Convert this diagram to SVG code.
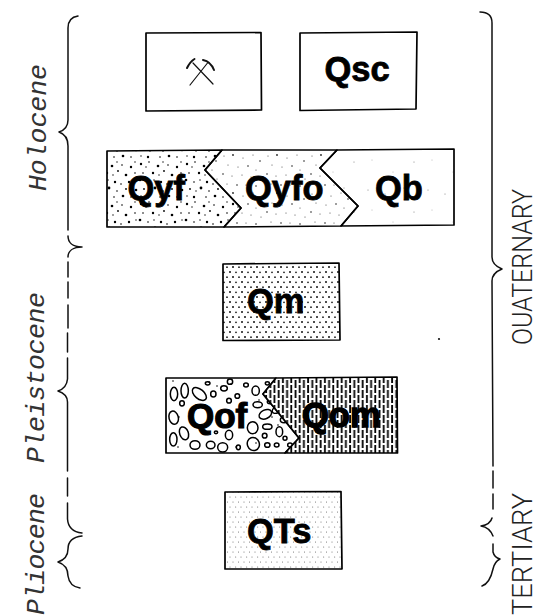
<svg xmlns="http://www.w3.org/2000/svg" width="533" height="616" viewBox="0 0 533 616">
<style>
.bx{fill:#fff;stroke:#000;stroke-width:1.7;stroke-linejoin:round}
.ln{fill:none;stroke:#111;stroke-width:1.5;stroke-linecap:round;stroke-linejoin:round}
.br{fill:none;stroke:#111;stroke-width:1.5;stroke-linecap:round;stroke-linejoin:round}
.lb{font-family:"Liberation Sans",Arial,sans-serif;font-weight:700;font-size:34.500px;fill:#000;stroke:#000;stroke-width:.8}
.ep{font-family:"Liberation Mono","Courier New",monospace;font-style:italic;font-size:26.500px;fill:#333}
.pd{font-family:"Roboto","Liberation Sans",sans-serif;font-weight:300;font-size:28px;fill:#222}
</style>
<defs>
<pattern id="pQyf" width="46" height="40" patternUnits="userSpaceOnUse" fill="#000">
<circle cx="3" cy="4" r="1.2"/><circle cx="8" cy="7" r=".7"/><circle cx="11" cy="2" r=".8"/><circle cx="20" cy="6" r="1.3"/><circle cx="25" cy="2" r=".7"/><circle cx="30" cy="5" r=".8"/><circle cx="39" cy="7" r="1.2"/><circle cx="43" cy="2" r=".7"/>
<circle cx="5" cy="13" r=".8"/><circle cx="15" cy="13" r="1.2"/><circle cx="21" cy="15" r=".7"/><circle cx="26" cy="11" r=".9"/><circle cx="34" cy="15" r="1.3"/><circle cx="43" cy="13" r=".8"/>
<circle cx="2" cy="20" r="1.3"/><circle cx="10" cy="22" r=".8"/><circle cx="16" cy="20" r=".7"/><circle cx="23" cy="22" r="1.2"/><circle cx="29" cy="24" r=".8"/><circle cx="37" cy="22" r="1.2"/><circle cx="44" cy="20" r=".7"/>
<circle cx="6" cy="29" r=".9"/><circle cx="12" cy="31" r=".7"/><circle cx="17" cy="28" r="1.4"/><circle cx="25" cy="31" r=".8"/><circle cx="34" cy="29" r=".9"/><circle cx="44" cy="30" r="1.3"/>
<circle cx="3" cy="36" r=".7"/><circle cx="10" cy="37" r="1.2"/><circle cx="22" cy="37" r=".8"/><circle cx="31" cy="36" r="1.3"/><circle cx="39" cy="37" r=".8"/>
</pattern>
<pattern id="pQyfo" width="44" height="38" patternUnits="userSpaceOnUse" fill="#222">
<circle cx="4" cy="4" r=".5"/><circle cx="13" cy="3" r=".9"/><circle cx="23" cy="6" r=".5"/><circle cx="33" cy="3" r=".5"/><circle cx="40" cy="9" r=".8"/>
<circle cx="8" cy="13" r=".5"/><circle cx="18" cy="15" r=".5"/><circle cx="28" cy="14" r=".8"/><circle cx="36" cy="18" r=".5"/>
<circle cx="3" cy="22" r=".8"/><circle cx="12" cy="24" r=".5"/><circle cx="22" cy="23" r=".5"/><circle cx="31" cy="25" r=".5"/><circle cx="41" cy="27" r=".5"/>
<circle cx="7" cy="32" r=".5"/><circle cx="17" cy="33" r=".8"/><circle cx="26" cy="33" r=".5"/><circle cx="36" cy="34" r=".8"/>
</pattern>
<pattern id="pQb" width="60" height="50" patternUnits="userSpaceOnUse" fill="#666">
<circle cx="8" cy="40" r=".5"/><circle cx="25" cy="44" r=".5"/><circle cx="44" cy="38" r=".5"/><circle cx="54" cy="12" r=".5"/><circle cx="33" cy="22" r=".4"/><circle cx="12" cy="10" r=".4"/>
</pattern>
<pattern id="pQm" width="12" height="10" patternUnits="userSpaceOnUse" fill="#111">
<circle cx="2" cy="2" r="1"/><circle cx="8" cy="2.300" r=".85"/><circle cx="5" cy="7" r="1"/><circle cx="11" cy="7.200" r=".85"/>
</pattern>
<pattern id="pQTs" width="11" height="10" patternUnits="userSpaceOnUse" fill="#555">
<circle cx="2" cy="2" r=".5"/><circle cx="7.500" cy="2" r=".5"/><circle cx="4.700" cy="7" r=".5"/><circle cx="10" cy="7" r=".5"/>
</pattern>
<pattern id="pQom" width="8.400" height="20" patternUnits="userSpaceOnUse">
<rect width="8.400" height="20" fill="#fff"/>
<g fill="#000"><rect x=".6" y="0" width="1.800" height="8"/><rect x=".6" y="10" width="1.800" height="8"/><rect x="4.800" y="5" width="1.800" height="8"/><rect x="4.800" y="15" width="1.800" height="5"/><rect x="4.800" y="0" width="1.800" height="3"/></g>
</pattern>
<clipPath id="cQof"><polygon points="166,378 276,378 263,394 299,438 285,453 166,453"/></clipPath>
</defs>
<rect width="533" height="616" fill="#fff"/>

<g id="connectors">
<path class="br" d="M78,16C71,17 68,21 68,28L68,120C68,126 65,130 59,132C65,134 68,138 68,146L68,230"/>
<path class="br" d="M68,236C68,242 72,247 82,247C73,247 68,251 68,257M68,262V277M68,282V298M68,305V328M67.500,333V352M67.500,358V379C67,385 64,389 58,391C64,393 67.500,396 67.500,402V471M67.500,478V496M67.500,503V519C68,526 72,532 82,533M82,536C73,537 68,541 68,549C68,556 64,560 58,562C64,564 68,568 68,576C69,583 73,587 80,588"/>
<path class="br" d="M480,12C488,12 492,16 492,23V257C492,263 497,267 502,269C497,271 492,275 492,281L493,466M493,471V488M493,494V509M492,518C491,522 487,525 481,526C487,527 491,531 493,536M493,544V552C494,556 496,558 500,559C496,561 494,564 493,569C491,578 488,584 482,586"/>
</g>

<g id="node-mine">
<polygon class="bx" points="146,33 261,32.500 261.500,110 146,111"/>
<path class="ln" style="stroke-width:1.2" d="M190,85L207.500,63M213,84L193,63"/>
<path class="ln" style="stroke-width:2" d="M187,68C189,64 191,61 194.500,59"/>
<path class="ln" style="stroke-width:2" d="M203,60C208,61 212,65 214,70"/>
</g>

<g id="node-Qsc">
<polygon class="bx" points="300,33 417,32 416,109 300,110.500"/>
<text class="lb" x="324.500" y="81">Qsc</text>
</g>

<g id="node-Qyf">
<polygon class="bx" style="fill:url(#pQyf)" points="107,151 222,150 205,170 241,208 224,227 107,227"/>
<text class="lb" x="127.500" y="200">Qyf</text>
</g>
<g id="node-Qyfo">
<polygon class="bx" style="fill:url(#pQyfo)" points="222,150 337,150 320,168 358,206 341,226 224,227 241,208 205,170"/>
<text class="lb" x="245" y="200">Qyfo</text>
</g>
<g id="node-Qb">
<polygon class="bx" style="fill:url(#pQb)" points="337,150 454,149 454,225 341,226 358,206 320,168"/>
<text class="lb" x="375" y="200">Qb</text>
</g>

<g id="node-Qm">
<polygon class="bx" style="fill:url(#pQm)" points="223,264 339,263 340,340 223,340.500"/>
<text class="lb" x="247" y="313">Qm</text>
</g>

<g id="node-Qof">
<polygon class="bx" points="166,378 276,378 263,394 299,438 285,453 166,453"/>
<g clip-path="url(#cQof)"><g transform="translate(160 370) scale(.33333)" fill="none" stroke="#000" stroke-width="4.500">
<ellipse cx="42" cy="72" rx="11" ry="20"/><ellipse cx="74" cy="62" rx="11" ry="22"/><ellipse cx="118" cy="72" rx="25" ry="14" transform="rotate(40 118 72)"/>
<ellipse cx="143" cy="40" rx="7" ry="5"/><ellipse cx="160" cy="72" rx="8" ry="9"/><ellipse cx="192" cy="55" rx="10" ry="8"/><ellipse cx="210" cy="35" rx="8" ry="8"/>
<ellipse cx="258" cy="45" rx="7" ry="6"/><ellipse cx="287" cy="62" rx="11" ry="14"/><ellipse cx="232" cy="78" rx="7" ry="7"/><ellipse cx="207" cy="92" rx="7" ry="7"/>
<ellipse cx="66" cy="100" rx="7" ry="8"/><ellipse cx="293" cy="104" rx="14" ry="9"/><ellipse cx="322" cy="40" rx="6" ry="5"/>
<ellipse cx="41" cy="143" rx="14" ry="20" transform="rotate(-15 41 143)"/><ellipse cx="72" cy="190" rx="13" ry="20" transform="rotate(-20 72 190)"/><ellipse cx="40" cy="208" rx="11" ry="20"/>
<ellipse cx="105" cy="225" rx="15" ry="13"/><ellipse cx="152" cy="225" rx="13" ry="11"/><ellipse cx="188" cy="232" rx="15" ry="14"/><ellipse cx="207" cy="195" rx="11" ry="14"/><ellipse cx="168" cy="187" rx="5" ry="4"/>
<ellipse cx="280" cy="222" rx="18" ry="20" transform="rotate(-20 280 222)"/><ellipse cx="322" cy="225" rx="8" ry="7"/><ellipse cx="278" cy="173" rx="16" ry="18"/><ellipse cx="322" cy="170" rx="14" ry="8"/>
<ellipse cx="316" cy="133" rx="20" ry="13" transform="rotate(-25 316 133)"/><ellipse cx="314" cy="197" rx="7" ry="7"/><ellipse cx="358" cy="185" rx="10" ry="15"/><ellipse cx="235" cy="232" rx="6" ry="7"/>
<ellipse cx="330" cy="95" rx="8" ry="6"/><ellipse cx="372" cy="150" rx="11" ry="8"/><ellipse cx="350" cy="225" rx="7" ry="6"/><ellipse cx="375" cy="205" rx="6" ry="6"/><ellipse cx="390" cy="225" rx="7" ry="6"/>
<ellipse cx="405" cy="165" rx="20" ry="13" transform="rotate(30 405 165)"/>
<ellipse cx="350" cy="120" rx="14" ry="9" transform="rotate(-25 350 120)"/>
</g>
<g fill="#000"><circle cx="173" cy="381" r=".8"/><circle cx="209" cy="382" r=".8"/><circle cx="217" cy="386" r=".8"/><circle cx="231" cy="384" r=".8"/><circle cx="179" cy="417" r=".8"/><circle cx="178" cy="447" r=".8"/><circle cx="205" cy="434" r=".8"/><circle cx="236" cy="447" r=".8"/><circle cx="259" cy="400" r=".8"/><circle cx="256" cy="443" r=".8"/><circle cx="272" cy="417" r=".8"/><circle cx="278" cy="425" r=".8"/></g></g>
<text class="lb" style="font-size:35px;stroke-width:1.200" x="187" y="428">Qof</text>
</g>

<g id="node-Qom">
<polygon class="bx" style="fill:url(#pQom)" points="276,378 397,377 397.500,453 285,453 299,438 263,394"/>
<text class="lb" style="stroke-width:1.400" x="302" y="427">Qom</text>
</g>

<g id="node-QTs">
<polygon class="bx" style="fill:url(#pQTs)" points="225,492 341,491.500 342,569 225,569"/>
<text class="lb" x="247" y="543">QTs</text>
</g>

<g id="labels">
<text class="ep" transform="translate(46 191) rotate(-90)" textLength="127" lengthAdjust="spacing">Holocene</text>
<text class="ep" transform="translate(44 463) rotate(-90)" textLength="171" lengthAdjust="spacing">Pleistocene</text>
<text class="ep" transform="translate(44 615) rotate(-90)" textLength="122" lengthAdjust="spacing">Pliocene</text>
<text class="pd" transform="translate(532 345) rotate(-90)" textLength="156" lengthAdjust="spacingAndGlyphs">OUATERNARY</text>
<text class="pd" transform="translate(532 615) rotate(-90)" textLength="122" lengthAdjust="spacingAndGlyphs">TERTIARY</text>
</g>
<circle cx="439" cy="339" r="1.100" fill="#111"/>
</svg>
